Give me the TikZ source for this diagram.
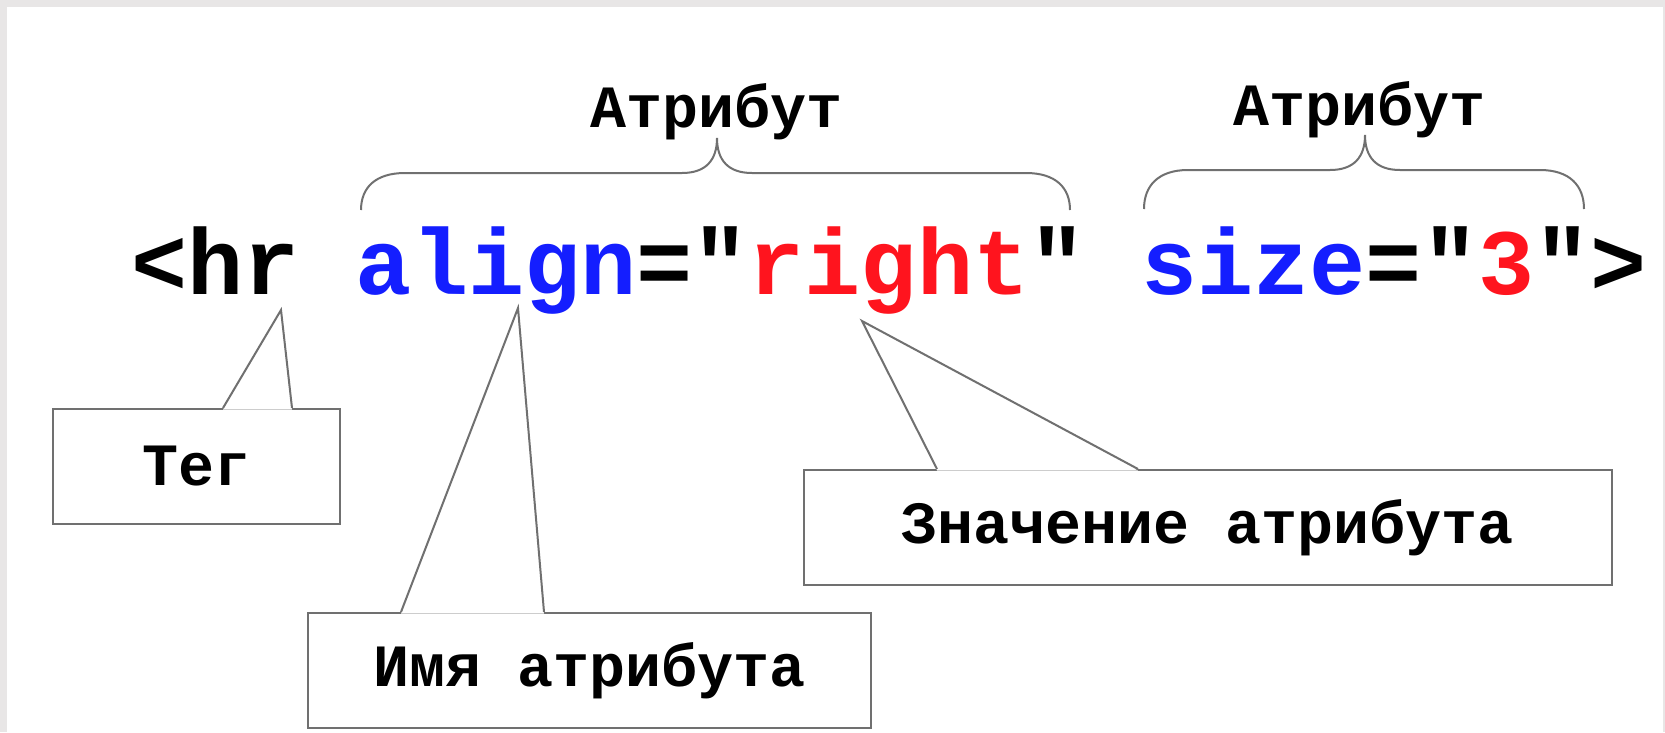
\documentclass[tikz,border=0pt]{standalone}
\usepackage{fontspec}
\newfontfamily\codefont[WordSpace={1,0,0}]{Liberation Mono}
\newcommand\bigcodefont{\codefont\bfseries\fontsize{93.5}{100}\selectfont}
\newcommand\labfont{\codefont\bfseries\fontsize{60}{66}\selectfont}
\definecolor{bggray}{RGB}{232,230,230}
\definecolor{linegray}{RGB}{112,112,112}
\definecolor{codeblue}{RGB}{20,30,255}
\definecolor{codered}{RGB}{255,20,30}
\tikzset{
  callbox/.style={draw=linegray, line width=2pt, fill=white, inner sep=0pt,
                  minimum height=115pt, font=\labfont},
  ptr/.style={draw=linegray, line width=2pt, line join=miter},
  bracepath/.style={draw=linegray, line width=2pt},
  lab/.style={font=\labfont, inner sep=0pt, anchor=base}
}
\begin{document}
\begin{tikzpicture}[x=1pt,y=-1pt]
\fill[bggray] (0,0) rectangle (1665,732);
\fill[white] (7,7) rectangle (1663,732);
\useasboundingbox (0,0) rectangle (1665,732);

% main code line
\node[anchor=base, inner sep=0pt, font=\bigcodefont] (code) at (889,294)
  {<hr \textcolor{codeblue}{align}="\textcolor{codered}{right}" \textcolor{codeblue}{size}="\textcolor{codered}{3}">};

% braces
\draw[bracepath] (361,210) .. controls (361,188) and (375,173) .. (405,173)
  -- (682,173) .. controls (706,173) and (717,160) .. (717,138)
  .. controls (717,160) and (728,173) .. (752,173)
  -- (1026,173) .. controls (1056,173) and (1070,188) .. (1070,210);
\draw[bracepath] (1144,209) .. controls (1144,186) and (1158,170) .. (1188,170)
  -- (1330,170) .. controls (1354,170) and (1365,157) .. (1365,135)
  .. controls (1365,157) and (1376,170) .. (1400,170)
  -- (1540,170) .. controls (1570,170) and (1584,186) .. (1584,209);
\node[lab] (attr1) at (717,127) {Атрибут};
\node[lab] (attr2) at (1360,125) {Атрибут};

% callout boxes
\node[callbox, minimum width=287pt] (tag) at (196.5,466.5) {Тег};
\node[callbox, minimum width=563pt] (name) at (589.5,670.5) {Имя атрибута};
\node[callbox, minimum width=808pt] (value) at (1208,527.5) {Значение атрибута};

% pointer points
\coordinate (tagtip) at (281,310);
\coordinate (tagA) at (tag.north -| 223,0);
\coordinate (tagB) at (tag.north -| 292,0);
\coordinate (nametip) at (518,308);
\coordinate (nameA) at (name.north -| 401,0);
\coordinate (nameB) at (name.north -| 544,0);
\coordinate (valtip) at (862,321);
\coordinate (valA) at (value.north -| 937,0);
\coordinate (valB) at (value.north -| 1138,0);

% erase edge under pointers
\fill[white] ([yshift=-1.5pt]tagA) -- (tagtip) -- ([yshift=-1.5pt]tagB) -- cycle;
\fill[white] ([yshift=-1.5pt]nameA) -- (nametip) -- ([yshift=-1.5pt]nameB) -- cycle;
\fill[white] ([yshift=-1.5pt]valA) -- (valtip) -- ([yshift=-1.5pt]valB) -- cycle;

% pointers
\draw[ptr] (tagA) -- (tagtip) -- (tagB);
\draw[ptr] (nameA) -- (nametip) -- (nameB);
\draw[ptr] (valA) -- (valtip) -- (valB);
\end{tikzpicture}
\end{document}
